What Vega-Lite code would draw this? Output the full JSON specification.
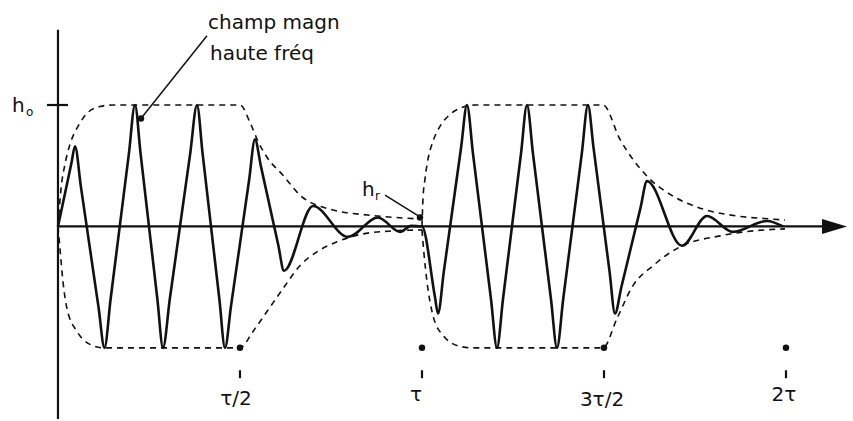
{
  "$schema": "https://vega.github.io/schema/vega-lite/v6.json",
  "width": 853,
  "height": 421,
  "autosize": {"type": "fit", "contains": "padding"},
  "padding": 0,
  "background": "white",
  "config": {"view": {"stroke": null}},
  "datasets": {
    "wave": [
      {"t": 0, "h": 0}, {"t": 0.0374, "h": 0.5279}, {"t": 0.0467, "h": 0.6598}, {"t": 0.0629, "h": 0.3279},
      {"t": 0.1115, "h": -0.668}, {"t": 0.1277, "h": -1}, {"t": 0.1445, "h": -0.6}, {"t": 0.1948, "h": 0.6},
      {"t": 0.2115, "h": 1}, {"t": 0.2269, "h": 0.6}, {"t": 0.2731, "h": -0.6}, {"t": 0.2885, "h": -1},
      {"t": 0.3071, "h": -0.6}, {"t": 0.3632, "h": 0.6}, {"t": 0.3819, "h": 1}, {"t": 0.3973, "h": 0.6},
      {"t": 0.4434, "h": -0.6}, {"t": 0.4588, "h": -1}, {"t": 0.4753, "h": -0.6566}, {"t": 0.5247, "h": 0.3738},
      {"t": 0.5412, "h": 0.7172}, {"t": 0.5571, "h": 0.5008}, {"t": 0.6049, "h": -0.1484}, {"t": 0.6209, "h": -0.3648},
      {"t": 0.7005, "h": 0.168}, {"t": 0.7967, "h": -0.0861}, {"t": 0.8791, "h": 0.0738}, {"t": 0.9396, "h": -0.0451},
      {"t": 0.9698, "h": 0.0041}, {"t": 1.0, "h": 0}, {"t": 1.0352, "h": -0.5738}, {"t": 1.044, "h": -0.7172},
      {"t": 1.0599, "h": -0.3738}, {"t": 1.1077, "h": 0.6566}, {"t": 1.1236, "h": 1}, {"t": 1.1401, "h": 0.6},
      {"t": 1.1896, "h": -0.6}, {"t": 1.206, "h": -1}, {"t": 1.2225, "h": -0.6}, {"t": 1.272, "h": 0.6},
      {"t": 1.2885, "h": 1}, {"t": 1.3049, "h": 0.6}, {"t": 1.3544, "h": -0.6}, {"t": 1.3709, "h": -1},
      {"t": 1.3879, "h": -0.6}, {"t": 1.439, "h": 0.6}, {"t": 1.456, "h": 1}, {"t": 1.4709, "h": 0.6566},
      {"t": 1.5154, "h": -0.3738}, {"t": 1.5302, "h": -0.7172}, {"t": 1.5478, "h": -0.4992}, {"t": 1.6005, "h": 0.1549},
      {"t": 1.6181, "h": 0.373}, {"t": 1.7143, "h": -0.1598}, {"t": 1.783, "h": 0.0861}, {"t": 1.8544, "h": -0.0451},
      {"t": 1.9478, "h": 0.0451}, {"t": 1.9918, "h": 0}
    ],
    "env": [
      {"s": "u1", "t": 0, "h": 0}, {"s": "u1", "t": 0.0082, "h": 0.3074}, {"s": "u1", "t": 0.0192, "h": 0.5123},
      {"s": "u1", "t": 0.033, "h": 0.6762}, {"s": "u1", "t": 0.0549, "h": 0.8238}, {"s": "u1", "t": 0.0797, "h": 0.9303},
      {"s": "u1", "t": 0.1154, "h": 0.9877}, {"s": "u1", "t": 0.1484, "h": 1}, {"s": "u1", "t": 0.5, "h": 1},
      {"s": "u1", "t": 0.5275, "h": 0.8566}, {"s": "u1", "t": 0.5495, "h": 0.7008}, {"s": "u1", "t": 0.5742, "h": 0.5697},
      {"s": "u1", "t": 0.6181, "h": 0.4221}, {"s": "u1", "t": 0.6648, "h": 0.2582}, {"s": "u1", "t": 0.7555, "h": 0.1352},
      {"s": "u1", "t": 0.8489, "h": 0.0943}, {"s": "u1", "t": 0.9258, "h": 0.0738}, {"s": "u1", "t": 0.9945, "h": 0.0615},
      {"s": "l1", "t": 0, "h": 0}, {"s": "l1", "t": 0.0055, "h": -0.1844}, {"s": "l1", "t": 0.0137, "h": -0.4549},
      {"s": "l1", "t": 0.0247, "h": -0.6762}, {"s": "l1", "t": 0.0522, "h": -0.8648}, {"s": "l1", "t": 0.0879, "h": -0.9713},
      {"s": "l1", "t": 0.1236, "h": -1}, {"s": "l1", "t": 0.5, "h": -1}, {"s": "l1", "t": 0.5357, "h": -0.8648},
      {"s": "l1", "t": 0.5742, "h": -0.7008}, {"s": "l1", "t": 0.6181, "h": -0.5123}, {"s": "l1", "t": 0.6648, "h": -0.3238},
      {"s": "l1", "t": 0.7115, "h": -0.209}, {"s": "l1", "t": 0.7665, "h": -0.127}, {"s": "l1", "t": 0.8379, "h": -0.0615},
      {"s": "l1", "t": 0.9203, "h": -0.0369}, {"s": "l1", "t": 1.0, "h": -0.0287},
      {"s": "u2", "t": 1.0, "h": 0}, {"s": "u2", "t": 1.0027, "h": 0.2254}, {"s": "u2", "t": 1.0082, "h": 0.3893},
      {"s": "u2", "t": 1.0165, "h": 0.5533}, {"s": "u2", "t": 1.0302, "h": 0.7008}, {"s": "u2", "t": 1.0495, "h": 0.8238},
      {"s": "u2", "t": 1.0769, "h": 0.9221}, {"s": "u2", "t": 1.1099, "h": 0.9795}, {"s": "u2", "t": 1.1456, "h": 1},
      {"s": "u2", "t": 1.4973, "h": 1}, {"s": "u2", "t": 1.544, "h": 0.7172}, {"s": "u2", "t": 1.6181, "h": 0.4139},
      {"s": "u2", "t": 1.6896, "h": 0.25}, {"s": "u2", "t": 1.772, "h": 0.1434}, {"s": "u2", "t": 1.8654, "h": 0.0861},
      {"s": "u2", "t": 1.956, "h": 0.0615}, {"s": "u2", "t": 1.9973, "h": 0.0533},
      {"s": "l2", "t": 1.0, "h": -0.0287}, {"s": "l2", "t": 1.0055, "h": -0.2254}, {"s": "l2", "t": 1.0137, "h": -0.4549},
      {"s": "l2", "t": 1.0302, "h": -0.7336}, {"s": "l2", "t": 1.0577, "h": -0.8975}, {"s": "l2", "t": 1.1044, "h": -0.9877},
      {"s": "l2", "t": 1.1374, "h": -1}, {"s": "l2", "t": 1.4973, "h": -1}, {"s": "l2", "t": 1.5357, "h": -0.7582},
      {"s": "l2", "t": 1.5797, "h": -0.4877}, {"s": "l2", "t": 1.6346, "h": -0.3238}, {"s": "l2", "t": 1.7088, "h": -0.168},
      {"s": "l2", "t": 1.8187, "h": -0.0779}, {"s": "l2", "t": 1.9093, "h": -0.0369}, {"s": "l2", "t": 1.9973, "h": -0.0205}
    ],
    "axes": [
      {"t": 0, "t2": 0, "h": -1.5861, "h2": 1.619},
      {"t": 0, "t2": 2.0989, "h": 0, "h2": 0},
      {"t": -0.0302, "t2": 0.0275, "h": 1, "h2": 1},
      {"t": 0.5, "t2": 0.5, "h": -1.1844, "h2": -1.25},
      {"t": 1, "t2": 1, "h": -1.1844, "h2": -1.25},
      {"t": 1.5, "t2": 1.5, "h": -1.1844, "h2": -1.25},
      {"t": 2, "t2": 2, "h": -1.1844, "h2": -1.25}
    ],
    "leaders": [
      {"t": 0.4093, "t2": 0.228, "h": 1.5697, "h2": 0.8893},
      {"t": 0.8984, "t2": 0.9945, "h": 0.2582, "h2": 0.0779}
    ],
    "dots": [
      {"t": 0.228, "h": 0.8893}, {"t": 0.9945, "h": 0.0738},
      {"t": 0.5, "h": -1}, {"t": 1, "h": -1}, {"t": 1.5, "h": -1}, {"t": 2, "h": -1}
    ],
    "arrow": [{"t": 2.1332, "h": 0}],
    "texts": [
      {"t": 0.4121, "h": 1.627, "label": "champ magn"},
      {"t": 0.4176, "h": 1.373, "label": "haute fréq"},
      {"t": -0.1264, "h": 0.9385, "label": "h"},
      {"t": 0.8352, "h": 0.25, "label": "h"}
    ],
    "subs": [
      {"t": -0.0879, "h": 0.9057, "label": "o"},
      {"t": 0.8709, "h": 0.2172, "label": "r"}
    ],
    "tlabels": [
      {"t": 0.489, "h": -1.4221, "label": "τ/2"},
      {"t": 0.9835, "h": -1.389, "label": "τ"},
      {"t": 1.4945, "h": -1.4303, "label": "3τ/2"},
      {"t": 1.9945, "h": -1.389, "label": "2τ"}
    ]
  },
  "encoding": {
    "x": {"field": "t", "type": "quantitative", "axis": null,
          "scale": {"domain": [-0.1593, 2.1841], "nice": false, "zero": false, "padding": 0}},
    "y": {"field": "h", "type": "quantitative", "axis": null,
          "scale": {"domain": [-1.5861, 1.8648], "nice": false, "zero": false, "padding": 0}}
  },
  "layer": [
    {
      "data": {"name": "env"},
      "mark": {"type": "line", "interpolate": "monotone", "color": "#111", "strokeWidth": 1.6, "strokeDash": [6, 5]},
      "encoding": {"detail": {"field": "s", "type": "nominal"}}
    },
    {
      "data": {"name": "axes"},
      "mark": {"type": "rule", "color": "#111", "strokeWidth": 2.2},
      "encoding": {"x2": {"field": "t2"}, "y2": {"field": "h2"}}
    },
    {
      "data": {"name": "wave"},
      "mark": {"type": "line", "interpolate": "monotone", "color": "#111", "strokeWidth": 2.6, "strokeJoin": "round"},
      "encoding": {}
    },
    {
      "data": {"name": "leaders"},
      "mark": {"type": "rule", "color": "#111", "strokeWidth": 1.5},
      "encoding": {"x2": {"field": "t2"}, "y2": {"field": "h2"}}
    },
    {
      "data": {"name": "dots"},
      "mark": {"type": "point", "shape": "circle", "filled": true, "color": "#111", "size": 42, "opacity": 1}
    },
    {
      "data": {"name": "arrow"},
      "mark": {"type": "point", "shape": "M-1,-0.6L1,0L-1,0.6Z", "filled": true, "color": "#111", "size": 625, "opacity": 1}
    },
    {
      "data": {"name": "texts"},
      "mark": {"type": "text", "align": "left", "baseline": "alphabetic", "font": "DejaVu Sans", "fontSize": 20, "color": "#111"},
      "encoding": {"text": {"field": "label"}}
    },
    {
      "data": {"name": "subs"},
      "mark": {"type": "text", "align": "left", "baseline": "alphabetic", "font": "DejaVu Sans", "fontSize": 12, "color": "#111"},
      "encoding": {"text": {"field": "label"}}
    },
    {
      "data": {"name": "tlabels"},
      "mark": {"type": "text", "align": "center", "baseline": "middle", "font": "DejaVu Sans", "fontSize": 20, "color": "#111"},
      "encoding": {"text": {"field": "label"}}
    }
  ]
}
